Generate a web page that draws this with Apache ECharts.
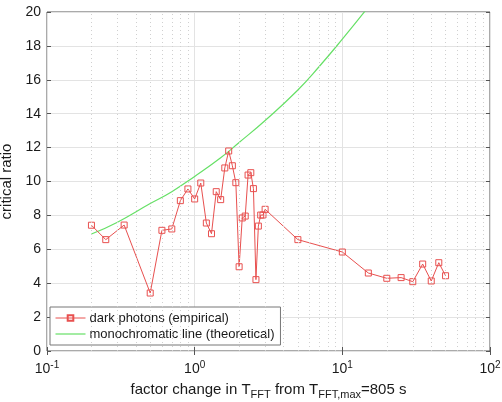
<!DOCTYPE html>
<html>
<head>
<meta charset="utf-8">
<script src="https://cdn.jsdelivr.net/npm/echarts@6/dist/echarts.min.js"></script>
<style>
html,body{margin:0;padding:0;background:#fff;}
#main{width:502px;height:402px;}
</style>
</head>
<body>
<div id="main"></div>
<script>
// factor change in T_FFT
var darkX = [0.2,0.25,0.333,0.5,0.6,0.7,0.8,0.9,1,1.1,1.2,1.3,1.4,1.5,1.6,1.7,1.8,1.9,2,2.1,2.2,2.3,2.4,2.5,2.6,2.7,2.8,2.9,3,5,10,15,20,25,30,35,40,45,50];
var darkRatio = [7.42,6.57,7.43,3.42,7.12,7.2,8.87,9.56,8.97,9.91,7.55,6.92,9.4,8.93,10.8,11.8,10.93,9.93,4.97,7.85,7.96,10.38,10.52,9.58,4.21,7.37,8.02,8.02,8.36,6.57,5.84,4.6,4.29,4.33,4.09,5.13,4.13,5.21,4.44];
// theoretical curve
var monoX = [0.2,0.3,0.5,0.7,1,1.5,2,3,5,7,10,15];
var monoRatio = [6.9,7.6,8.7,9.4,10.3,11.4,12.3,13.6,15.4,16.8,18.4,20.3];
// dotted minor grid positions
var minorX = [0.2,0.3,0.4,0.5,0.6,0.7,0.8,0.9,2,3,4,5,6,7,8,9,20,30,40,50,60,70,80,90];

function pairs(xs, ys)
{
	var out = [];
	for (var i = 0; i < xs.length; i++) out.push([xs[i], ys[i]]);
	return out;
}

var minorLines = [];
for (var i = 0; i < minorX.length; i++) minorLines.push({xAxis: minorX[i]});

var fontFam = '"Liberation Sans", Arial, sans-serif';
var txt = '#1a1a1a';
var red = '#e8504f';
var green = '#66e066';

var option = {
	animation: false,
	textStyle: {fontFamily: fontFam},
	grid: {left: 47, right: 12, top: 12, bottom: 51, outerBoundsMode: 'none', containLabel: false,
		show: true, borderColor: '#555', borderWidth: 1, backgroundColor: '#fff'},
	legend: {
		left: 50, top: 307, orient: 'vertical',
		backgroundColor: '#fff', borderColor: '#777', borderWidth: 1, borderRadius: 0,
		padding: [3, 6, 3, 5], itemGap: 0, itemWidth: 30, itemHeight: 7,
		textStyle: {fontSize: 13, color: txt, fontFamily: fontFam, lineHeight: 16, padding: [0, 0, 0, -1]},
		data: [
			{name: 'dark photons (empirical)', lineStyle: {width: 1}},
			{name: 'monochromatic line (theoretical)', icon: 'path://M0,0 L30,0 L30,1.2 L0,1.2 Z', itemStyle: {color: green}}
		]
	},
	xAxis: [{
		type: 'log', logBase: 10, min: 0.1, max: 100,
		name: 'factor change in T{sub|FFT} from T{sub|FFT,max}=805 s',
		nameLocation: 'middle', nameGap: 28,
		nameTextStyle: {fontSize: 15, color: txt, rich: {sub: {fontSize: 11, color: txt, padding: [10, 0, 0, 0]}}},
		axisLine: {show: false},
		axisTick: {inside: true, length: 4, lineStyle: {color: '#555'}},
		axisLabel: {
			margin: 9, color: txt, fontSize: 14,
			formatter: function (v) {
				var e = Math.round(Math.log10(v));
				return '{b|10}{s|' + e + '}';
			},
			rich: {b: {fontSize: 14, color: txt}, s: {fontSize: 10, color: txt, padding: [0, 0, 9, 0]}}
		},
		splitLine: {show: true, lineStyle: {color: '#e3e3e3', width: 1}}
	}, {
		type: 'log', logBase: 10, min: 0.1, max: 100, position: 'top',
		axisLine: {show: false}, axisLabel: {show: false}, splitLine: {show: false},
		axisTick: {inside: true, length: 4, lineStyle: {color: '#555'}}
	}],
	yAxis: [{
		type: 'value', min: 0, max: 20, interval: 2,
		name: 'critical ratio', nameLocation: 'middle', nameGap: 27,
		nameTextStyle: {fontSize: 15, color: txt, padding: [0, 0, 0, 0]},
		axisLine: {show: false},
		axisTick: {show: true, inside: true, length: 4, lineStyle: {color: '#555'}},
		axisLabel: {color: txt, fontSize: 14, margin: 6},
		splitLine: {show: true, lineStyle: {color: '#e3e3e3', width: 1}}
	}, {
		type: 'value', min: 0, max: 20, interval: 2, position: 'right',
		axisLine: {show: false}, axisLabel: {show: false}, splitLine: {show: false},
		axisTick: {show: true, inside: true, length: 4, lineStyle: {color: '#555'}}
	}],
	series: [{
		name: 'monochromatic line (theoretical)',
		type: 'line',
		data: pairs(monoX, monoRatio),
		smooth: true,
		symbol: 'none',
		lineStyle: {color: green, width: 1.2},
		itemStyle: {color: green},
		markLine: {
			silent: true, symbol: 'none', label: {show: false},
			lineStyle: {type: [1, 3], color: '#d0d0d0', width: 1},
			data: minorLines
		},
		z: 3
	}, {
		name: 'dark photons (empirical)',
		type: 'line',
		data: pairs(darkX, darkRatio),
		symbol: 'rect',
		symbolSize: 6,
		lineStyle: {color: red, width: 1},
		itemStyle: {color: 'rgba(255,255,255,0)', borderColor: red, borderWidth: 1},
		z: 4
	}]
};

var myChart = echarts.init(document.getElementById('main'));
myChart.setOption(option);
</script>
</body>
</html>
